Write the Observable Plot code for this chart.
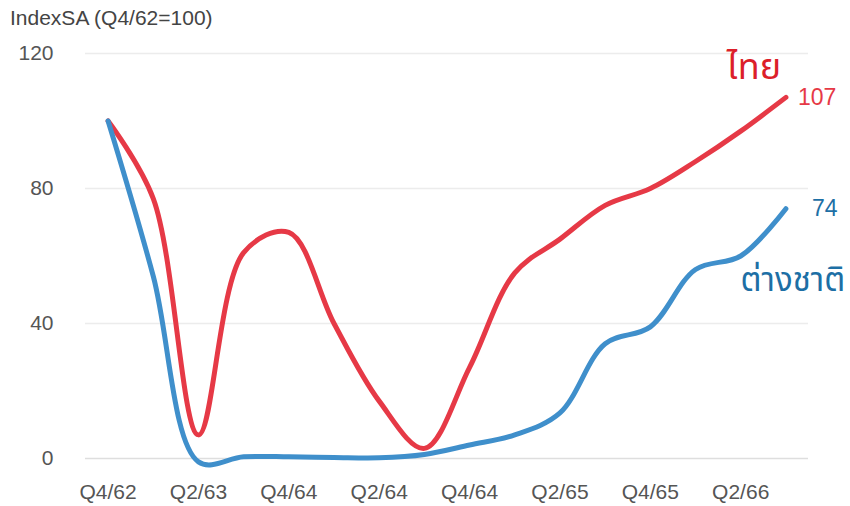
<!DOCTYPE html>
<html>
<head>
<meta charset="utf-8">
<script src="https://cdn.jsdelivr.net/npm/d3@7"></script>
<script src="https://cdn.jsdelivr.net/npm/@observablehq/plot@0.6"></script>
<style>
  html, body { margin: 0; padding: 0; background: #fff; }
  #wrap { position: relative; width: 850px; height: 506px; }
  #title { position: absolute; left: 10px; top: 6px; font: 21px "Liberation Sans", Arial, sans-serif; color: #444; white-space: nowrap; }
</style>
</head>
<body>
<div id="wrap"><div id="title">IndexSA (Q4/62=100)</div></div>
<script>
const quarters = ["Q4/62","Q1/63","Q2/63","Q3/63","Q4/63","Q1/64","Q2/64","Q3/64","Q4/64","Q1/65","Q2/65","Q3/65","Q4/65","Q1/66","Q2/66","Q3/66"];
const thai    = [100, 77, 7, 61, 67, 40, 17, 3, 27, 55, 65, 75, 80, 88, 97, 107];
const foreign = [100, 54, -1, 0.5, 0.5, 0.3, 0.2, 1.2, 4, 7, 13.5, 34, 39, 56, 60, 74];
const tickIndex  = [0, 2, 4, 6, 8, 10, 12, 14];
const tickLabels = ["Q4/62","Q2/63","Q4/64","Q2/64","Q4/64","Q2/65","Q4/65","Q2/66"];
const yTicks = [0, 40, 80, 120];
const seriesNames = ["ไทย", "ต่างชาติ"];

const rows = [];
quarters.forEach((q, i) => {
  rows.push({i, q, v: thai[i], s: seriesNames[0]});
  rows.push({i, q, v: foreign[i], s: seriesNames[1]});
});
const last = quarters.length - 1;
const lastThai = [{i: last, v: thai[last]}];
const lastForeign = [{i: last, v: foreign[last]}];

const redLine = "#e63946", blueLine = "#3f8fcb";
const redText = "#dc1f2a", blueText = "#1d6fa5";
const font = '"Liberation Sans", Arial, sans-serif';
const thaiFont = '"Noto Sans Thai", "Noto Sans", "Liberation Sans", sans-serif';

const chart = Plot.plot({
  width: 850,
  height: 506,
  marginLeft: 85,
  marginRight: 42,
  marginTop: 53,
  marginBottom: 48,
  style: {fontFamily: font, fontSize: "21px", color: "#555", background: "transparent", overflow: "visible"},
  x: {type: "linear", domain: [-0.5, quarters.length - 0.5], axis: null},
  y: {domain: [0, 120], axis: null},
  marks: [
    Plot.gridY(yTicks.filter(d => d !== 0), {stroke: "#ececec", strokeOpacity: 1, strokeWidth: 1.5}),
    Plot.ruleY([0], {stroke: "#dedede", strokeWidth: 1.5}),
    Plot.axisY(yTicks, {tickSize: 0, tickPadding: 32, fontSize: 21, fill: "#555", label: null}),
    Plot.axisX(tickIndex, {tickSize: 0, tickPadding: 26, fontSize: 21, fill: "#555", label: null, tickFormat: (d) => tickLabels[tickIndex.indexOf(d)]}),
    Plot.line(rows, {x: "i", y: "v", z: "s", stroke: d => d.s === seriesNames[0] ? redLine : blueLine, strokeWidth: 5, curve: "catmull-rom", strokeLinecap: "round", strokeLinejoin: "round"}),
    Plot.text(lastThai, {x: "i", y: "v", text: d => String(Math.round(d.v)), dx: 12, textAnchor: "start", fill: redLine, fontSize: 23}),
    Plot.text(lastForeign, {x: "i", y: "v", text: d => String(Math.round(d.v)), dx: 26, textAnchor: "start", fill: blueText, fontSize: 23}),
    Plot.text(lastThai, {x: "i", y: "v", text: () => seriesNames[0], dx: -32, dy: -30, fill: redText, fontSize: 36, fontFamily: thaiFont}),
    Plot.text(lastForeign, {x: "i", y: "v", text: () => seriesNames[1], dx: 7, dy: 72, fill: blueText, fontSize: 33, fontFamily: thaiFont})
  ]
});
document.getElementById("wrap").prepend(chart);
</script>
</body>
</html>
